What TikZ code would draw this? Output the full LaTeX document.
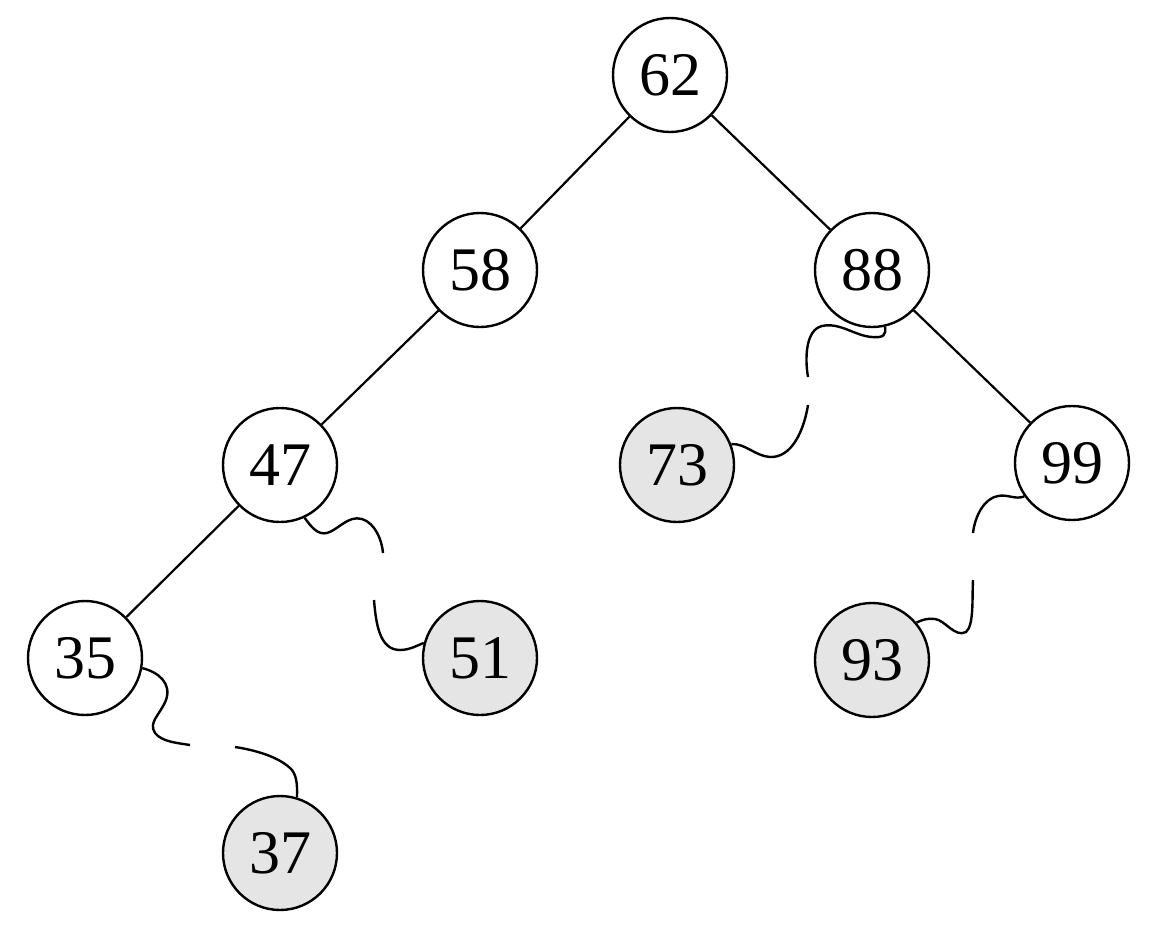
\documentclass[tikz,border=0pt]{standalone}
\usepackage{fontspec}
\setmainfont{Liberation Serif}
\begin{document}
\begin{tikzpicture}[x=1pt,y=-1pt,line width=2.4pt,
  key/.style={circle,draw,minimum size=114pt,inner sep=0pt,font=\fontsize{62}{70}\selectfont},
  thread/.style={key,fill=black!10},
  edge/.style={line width=2.2pt},
  wavy/.style={line width=2.4pt}]
\useasboundingbox (0,0) rectangle (1152,943);
\node[key] (n62) at (670,75) {62};
\node[key] (n58) at (480,270) {58};
\node[key] (n88) at (872,270) {88};
\node[key] (n47) at (280,465) {47};
\node[thread] (n73) at (677,465) {73};
\node[key] (n99) at (1072,463) {99};
\node[key] (n35) at (85,658) {35};
\node[thread] (n51) at (480,658) {51};
\node[thread] (n93) at (872,660) {93};
\node[thread] (n37) at (280,853) {37};
\draw[edge] (n62) -- (n58);
\draw[edge] (n62) -- (n88);
\draw[edge] (n58) -- (n47);
\draw[edge] (n88) -- (n99);
\draw[edge] (n47) -- (n35);
% gap ends
\coordinate (g88a) at (808,377);
\coordinate (g88b) at (808,405);
\coordinate (g47a) at (383,553);
\coordinate (g47b) at (374,600);
\coordinate (g35a) at (190,745);
\coordinate (g35b) at (235,747);
\coordinate (g99a) at (973,533);
\coordinate (g99b) at (973,580);
% 88 -> 73
\draw[wavy] (n88.-77) .. controls (886,335) and (884,338) .. (872,337)
  .. controls (855,336) and (840,322) .. (822,326)
  .. controls (805,330) and (805,360) .. (g88a);
\draw[wavy] (g88b) .. controls (804,430) and (792,458) .. (770,457)
  .. controls (755,456) and (745,443) .. (n73.21);
% 47 -> 51
\draw[wavy] (n47.-65) .. controls (312,528) and (318,535) .. (327,533)
  .. controls (338,530) and (348,515) .. (362,519)
  .. controls (375,523) and (382,540) .. (g47a);
\draw[wavy] (g47b) .. controls (376,625) and (380,650) .. (400,650)
  .. controls (410,650) and (418,645) .. (n51.165);
% 35 -> 37
\draw[wavy] (n35.-10) .. controls (158,672) and (172,683) .. (166,700)
  .. controls (160,715) and (148,722) .. (155,733)
  .. controls (162,742) and (178,743) .. (g35a);
\draw[wavy] (g35b) .. controls (255,750) and (280,757) .. (292,770)
  .. controls (298,778) and (297,790) .. (n37.73);
% 99 -> 93
\draw[wavy] (n99.-145) .. controls (1015,500) and (1008,494) .. (998,496)
  .. controls (985,498) and (975,515) .. (g99a);
\draw[wavy] (g99b) .. controls (972,600) and (974,625) .. (966,632)
  .. controls (955,638) and (945,620) .. (935,619)
  .. controls (925,618) and (920,621) .. (n93.40);
\end{tikzpicture}
\end{document}
